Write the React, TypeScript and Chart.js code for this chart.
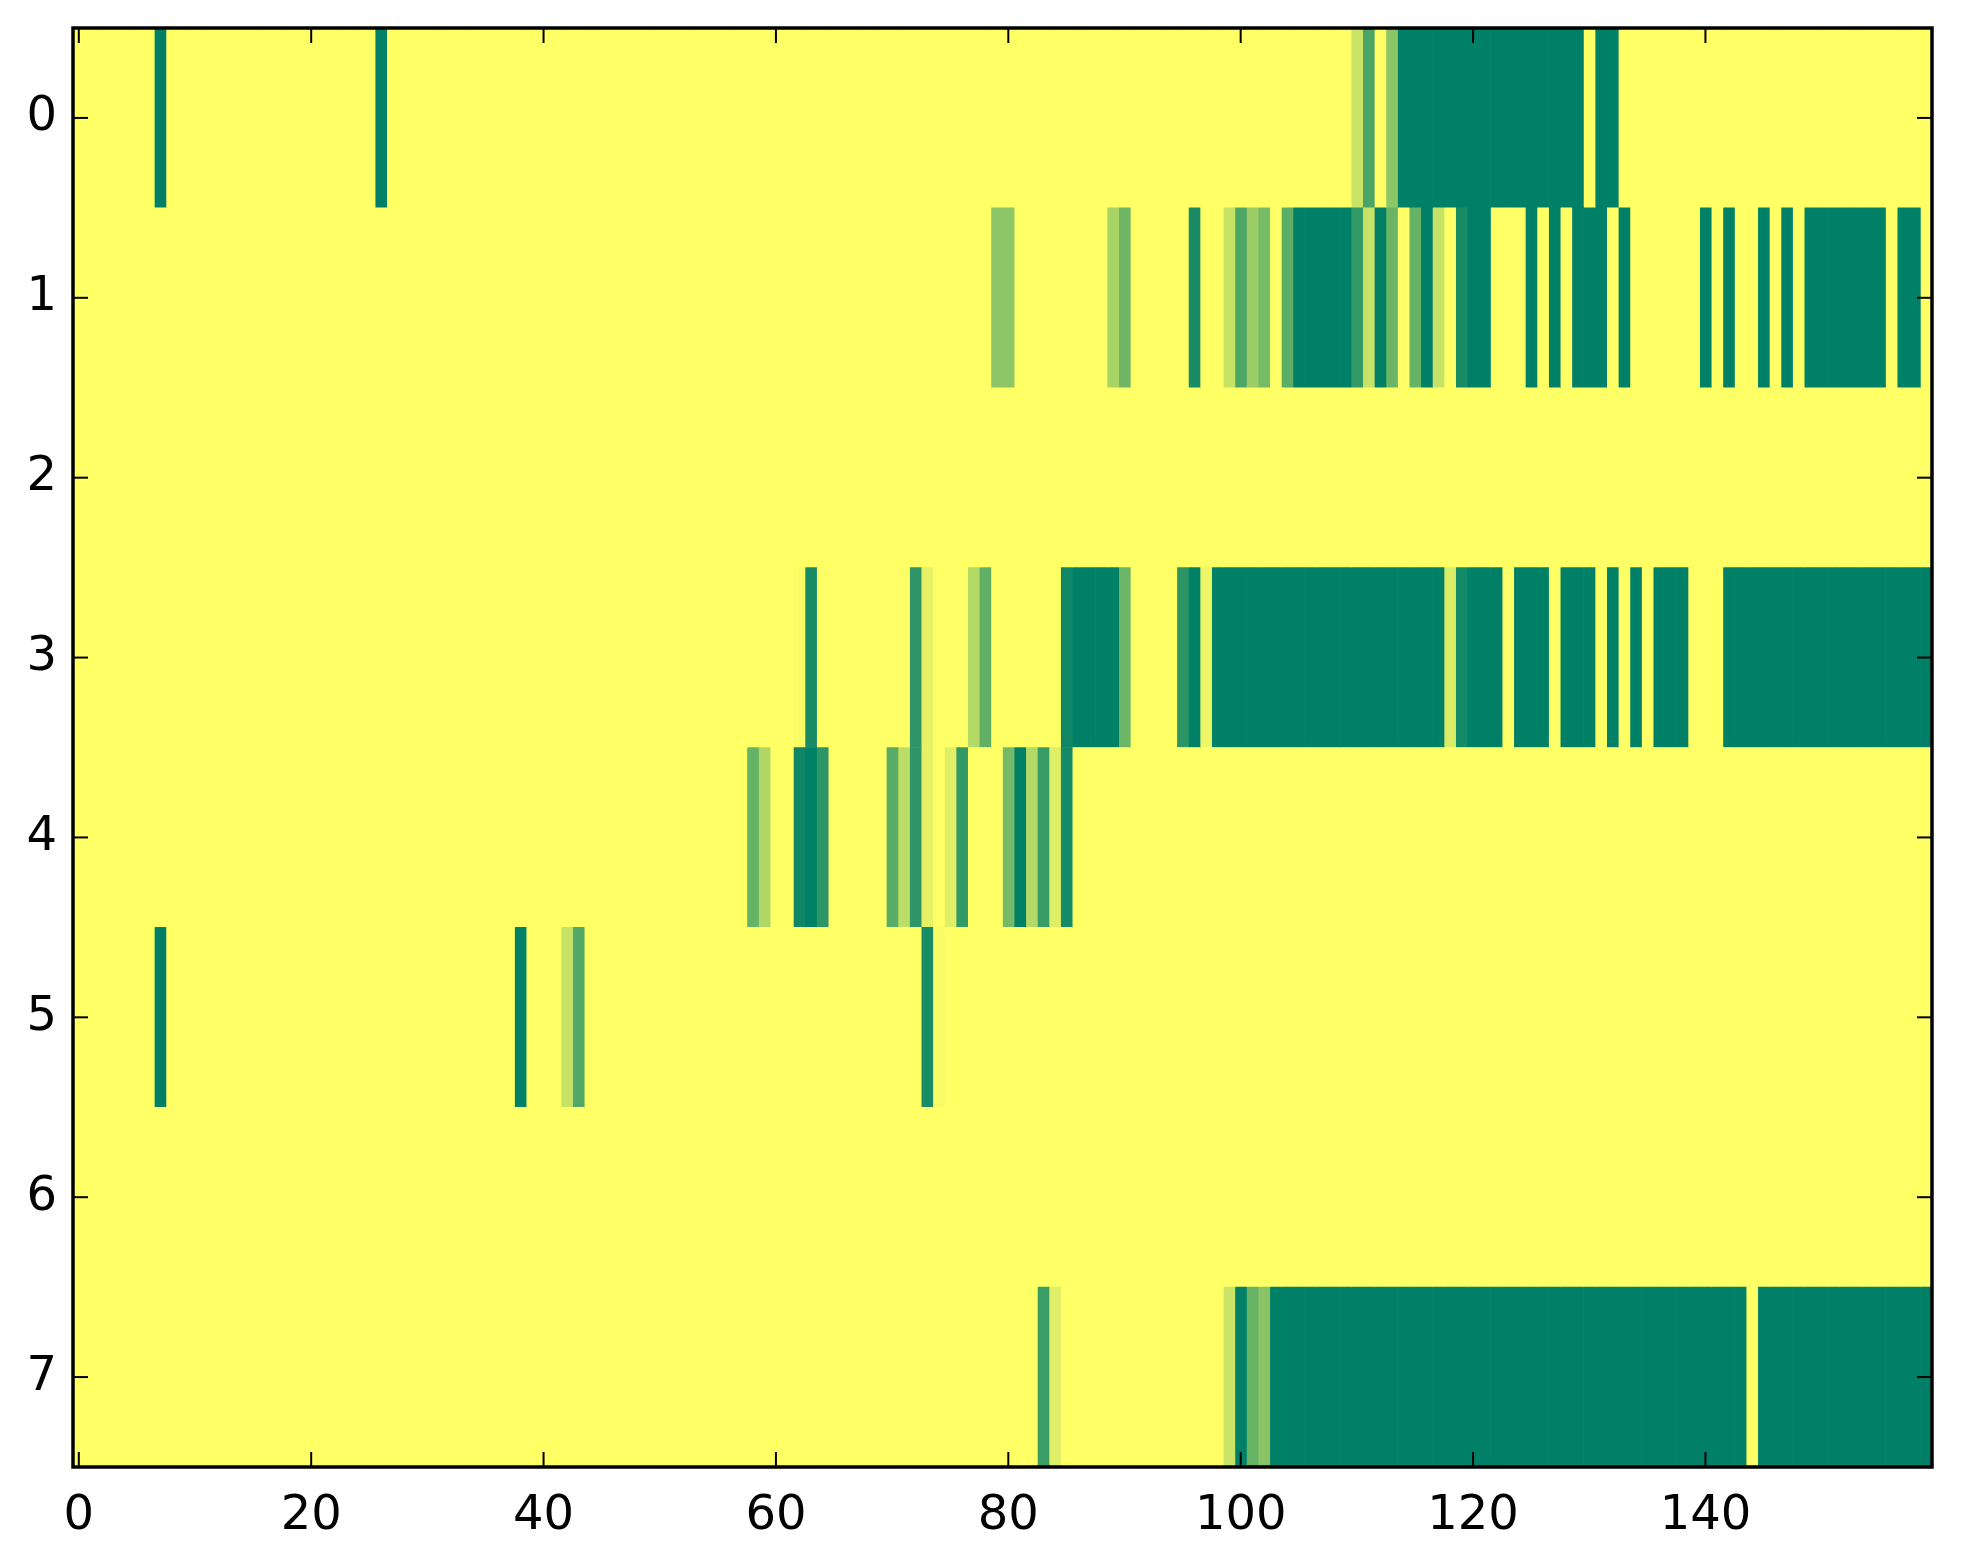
import React, { useEffect, useRef } from 'react';
import { Chart, registerables } from 'chart.js';

Chart.register(...registerables);

const rowLabels = ['0', '1', '2', '3', '4', '5', '6', '7'];
const xTickValues = [0, 20, 40, 60, 80, 100, 120, 140];

const row0 = [
  0, 0, 0, 0, 0, 0, 0, 1, 0, 0,
  0, 0, 0, 0, 0, 0, 0, 0, 0, 0,
  0, 0, 0, 0, 0, 0, 1, 0, 0, 0,
  0, 0, 0, 0, 0, 0, 0, 0, 0, 0,
  0, 0, 0, 0, 0, 0, 0, 0, 0, 0,
  0, 0, 0, 0, 0, 0, 0, 0, 0, 0,
  0, 0, 0, 0, 0, 0, 0, 0, 0, 0,
  0, 0, 0, 0, 0, 0, 0, 0, 0, 0,
  0, 0, 0, 0, 0, 0, 0, 0, 0, 0,
  0, 0, 0, 0, 0, 0, 0, 0, 0, 0,
  0, 0, 0, 0, 0, 0, 0, 0, 0, 0,
  0.21, 0.71, 0, 0.45, 1, 1, 1, 1, 1, 1,
  1, 1, 1, 1, 1, 1, 1, 1, 1, 1,
  0, 1, 1, 0, 0, 0, 0, 0, 0, 0,
  0, 0, 0, 0, 0, 0, 0, 0, 0, 0,
  0, 0, 0, 0, 0, 0, 0, 0, 0, 0,
];

const row1 = [
  0, 0, 0, 0, 0, 0, 0, 0, 0, 0,
  0, 0, 0, 0, 0, 0, 0, 0, 0, 0,
  0, 0, 0, 0, 0, 0, 0, 0, 0, 0,
  0, 0, 0, 0, 0, 0, 0, 0, 0, 0,
  0, 0, 0, 0, 0, 0, 0, 0, 0, 0,
  0, 0, 0, 0, 0, 0, 0, 0, 0, 0,
  0, 0, 0, 0, 0, 0, 0, 0, 0, 0,
  0, 0, 0, 0, 0, 0, 0, 0, 0, 0.45,
  0.45, 0, 0, 0, 0, 0, 0, 0, 0, 0.34,
  0.57, 0, 0, 0, 0, 0, 0.9, 0, 0, 0.22,
  0.69, 0.39, 0.53, 0, 0.64, 1, 1, 1, 1, 1,
  0.8, 0.22, 1, 0.58, 0, 0.6, 1, 0.22, 0, 0.9,
  1, 1, 0, 0, 0, 1, 0, 1, 0, 1,
  1, 1, 0, 1, 0, 0, 0, 0, 0, 0,
  1, 0, 1, 0, 0, 1, 0, 1, 0, 1,
  1, 1, 1, 1, 1, 1, 0, 1, 1, 0,
];

const row2 = [
  0, 0, 0, 0, 0, 0, 0, 0, 0, 0,
  0, 0, 0, 0, 0, 0, 0, 0, 0, 0,
  0, 0, 0, 0, 0, 0, 0, 0, 0, 0,
  0, 0, 0, 0, 0, 0, 0, 0, 0, 0,
  0, 0, 0, 0, 0, 0, 0, 0, 0, 0,
  0, 0, 0, 0, 0, 0, 0, 0, 0, 0,
  0, 0, 0, 0, 0, 0, 0, 0, 0, 0,
  0, 0, 0, 0, 0, 0, 0, 0, 0, 0,
  0, 0, 0, 0, 0, 0, 0, 0, 0, 0,
  0, 0, 0, 0, 0, 0, 0, 0, 0, 0,
  0, 0, 0, 0, 0, 0, 0, 0, 0, 0,
  0, 0, 0, 0, 0, 0, 0, 0, 0, 0,
  0, 0, 0, 0, 0, 0, 0, 0, 0, 0,
  0, 0, 0, 0, 0, 0, 0, 0, 0, 0,
  0, 0, 0, 0, 0, 0, 0, 0, 0, 0,
  0, 0, 0, 0, 0, 0, 0, 0, 0, 0,
];

const row3 = [
  0, 0, 0, 0, 0, 0, 0, 0, 0, 0,
  0, 0, 0, 0, 0, 0, 0, 0, 0, 0,
  0, 0, 0, 0, 0, 0, 0, 0, 0, 0,
  0, 0, 0, 0, 0, 0, 0, 0, 0, 0,
  0, 0, 0, 0, 0, 0, 0, 0, 0, 0,
  0, 0, 0, 0, 0, 0, 0, 0, 0, 0,
  0, 0, 0.02, 0.9, 0, 0, 0, 0, 0, 0,
  0, 0, 0.82, 0.1, 0, 0, 0, 0.3, 0.62, 0,
  0, 0, 0, 0, 0, 0.94, 1, 1, 1, 1,
  0.58, 0, 0, 0, 0, 0.83, 1, 0.07, 1, 1,
  1, 1, 1, 1, 1, 1, 1, 1, 1, 1,
  1, 1, 1, 1, 1, 1, 1, 1, 0.15, 0.92,
  1, 1, 1, 0, 1, 1, 1, 0, 1, 1,
  1, 0, 1, 0, 1, 0, 1, 1, 1, 0,
  0, 0, 1, 1, 1, 1, 1, 1, 1, 1,
  1, 1, 1, 1, 1, 1, 1, 1, 1, 1,
];

const row4 = [
  0, 0, 0, 0, 0, 0, 0, 0, 0, 0,
  0, 0, 0, 0, 0, 0, 0, 0, 0, 0,
  0, 0, 0, 0, 0, 0, 0, 0, 0, 0,
  0, 0, 0, 0, 0, 0, 0, 0, 0, 0,
  0, 0, 0, 0, 0, 0, 0, 0, 0, 0,
  0, 0, 0, 0, 0, 0, 0, 0, 0.6, 0.31,
  0, 0, 0.94, 1, 0.82, 0, 0, 0, 0, 0,
  0.65, 0.27, 0.82, 0.1, 0, 0.12, 0.8, 0, 0, 0,
  0.55, 1, 0.3, 0.78, 0.13, 0.92, 0, 0, 0, 0,
  0, 0, 0, 0, 0, 0, 0, 0, 0, 0,
  0, 0, 0, 0, 0, 0, 0, 0, 0, 0,
  0, 0, 0, 0, 0, 0, 0, 0, 0, 0,
  0, 0, 0, 0, 0, 0, 0, 0, 0, 0,
  0, 0, 0, 0, 0, 0, 0, 0, 0, 0,
  0, 0, 0, 0, 0, 0, 0, 0, 0, 0,
  0, 0, 0, 0, 0, 0, 0, 0, 0, 0,
];

const row5 = [
  0, 0, 0, 0, 0, 0, 0, 1, 0, 0,
  0, 0, 0, 0, 0, 0, 0, 0, 0, 0,
  0, 0, 0, 0, 0, 0, 0, 0, 0, 0,
  0, 0, 0, 0, 0, 0, 0, 0, 1, 0,
  0, 0, 0.22, 0.68, 0, 0, 0, 0, 0, 0,
  0, 0, 0, 0, 0, 0, 0, 0, 0, 0,
  0, 0, 0, 0, 0, 0, 0, 0, 0, 0,
  0, 0, 0, 0.9, 0.03, 0, 0, 0, 0, 0,
  0, 0, 0, 0, 0, 0, 0, 0, 0, 0,
  0, 0, 0, 0, 0, 0, 0, 0, 0, 0,
  0, 0, 0, 0, 0, 0, 0, 0, 0, 0,
  0, 0, 0, 0, 0, 0, 0, 0, 0, 0,
  0, 0, 0, 0, 0, 0, 0, 0, 0, 0,
  0, 0, 0, 0, 0, 0, 0, 0, 0, 0,
  0, 0, 0, 0, 0, 0, 0, 0, 0, 0,
  0, 0, 0, 0, 0, 0, 0, 0, 0, 0,
];

const row6 = [
  0, 0, 0, 0, 0, 0, 0, 0, 0, 0,
  0, 0, 0, 0, 0, 0, 0, 0, 0, 0,
  0, 0, 0, 0, 0, 0, 0, 0, 0, 0,
  0, 0, 0, 0, 0, 0, 0, 0, 0, 0,
  0, 0, 0, 0, 0, 0, 0, 0, 0, 0,
  0, 0, 0, 0, 0, 0, 0, 0, 0, 0,
  0, 0, 0, 0, 0, 0, 0, 0, 0, 0,
  0, 0, 0, 0, 0, 0, 0, 0, 0, 0,
  0, 0, 0, 0, 0, 0, 0, 0, 0, 0,
  0, 0, 0, 0, 0, 0, 0, 0, 0, 0,
  0, 0, 0, 0, 0, 0, 0, 0, 0, 0,
  0, 0, 0, 0, 0, 0, 0, 0, 0, 0,
  0, 0, 0, 0, 0, 0, 0, 0, 0, 0,
  0, 0, 0, 0, 0, 0, 0, 0, 0, 0,
  0, 0, 0, 0, 0, 0, 0, 0, 0, 0,
  0, 0, 0, 0, 0, 0, 0, 0, 0, 0,
];

const row7 = [
  0, 0, 0, 0, 0, 0, 0, 0, 0, 0,
  0, 0, 0, 0, 0, 0, 0, 0, 0, 0,
  0, 0, 0, 0, 0, 0, 0, 0, 0, 0,
  0, 0, 0, 0, 0, 0, 0, 0, 0, 0,
  0, 0, 0, 0, 0, 0, 0, 0, 0, 0,
  0, 0, 0, 0, 0, 0, 0, 0, 0, 0,
  0, 0, 0, 0, 0, 0, 0, 0, 0, 0,
  0, 0, 0, 0, 0, 0, 0, 0, 0, 0,
  0, 0, 0, 0.77, 0.13, 0, 0, 0, 0, 0,
  0, 0, 0, 0, 0, 0, 0, 0, 0, 0.21,
  1, 0.6, 0.46, 1, 1, 1, 1, 1, 1, 1,
  1, 1, 1, 1, 1, 1, 1, 1, 1, 1,
  1, 1, 1, 1, 1, 1, 1, 1, 1, 1,
  1, 1, 1, 1, 1, 1, 1, 1, 1, 1,
  1, 1, 1, 1, 0, 1, 1, 1, 1, 1,
  1, 1, 1, 1, 1, 1, 1, 1, 1, 1,
];

const rows = [row0, row1, row2, row3, row4, row5, row6, row7];

// matplotlib "summer_r" colormap
function cellColor(v: number): string {
  const r = Math.round(255 * (1 - v));
  const g = Math.round(255 * (1 - v / 2));
  return `rgb(${r},${g},102)`;
}

const FONT = { family: "'DejaVu Sans', 'Liberation Sans', sans-serif", size: 48 };

const frameTicks = {
  id: 'frameTicks',
  afterDraw(chart: any) {
    const { ctx, chartArea } = chart;
    const { left, right, top, bottom } = chartArea;
    const x = chart.scales.x;
    const y = chart.scales.y;
    const line = (x1: number, y1: number, x2: number, y2: number) => {
      ctx.beginPath();
      ctx.moveTo(x1, y1);
      ctx.lineTo(x2, y2);
      ctx.stroke();
    };
    ctx.save();
    ctx.strokeStyle = '#000';
    ctx.lineWidth = 2;
    const tl = 15;
    for (const v of xTickValues) {
      const px = x.getPixelForValue(v);
      line(px, bottom, px, bottom - tl);
      line(px, top, px, top + tl);
    }
    for (let i = 0; i < rowLabels.length; i++) {
      const py = y.getPixelForValue(i);
      line(left, py, left + tl, py);
      line(right, py, right - tl, py);
    }
    ctx.lineWidth = 3.5;
    ctx.strokeRect(left, top, right - left, bottom - top);
    ctx.restore();
  },
};

export default function App() {
  const ref = useRef<HTMLCanvasElement | null>(null);

  useEffect(() => {
    const canvas = ref.current;
    if (!canvas) return;
    const nCols = row0.length;
    const datasets = [] as any[];
    for (let c = 0; c < nCols; c++) {
      datasets.push({
        label: 'col ' + c,
        data: rows.map(() => [c - 0.5, c + 0.5]),
        backgroundColor: rows.map((r) => cellColor(r[c])),
        borderWidth: 0,
        grouped: false,
        barPercentage: 1,
        categoryPercentage: 1,
      });
    }
    const chart = new Chart(canvas, {
      type: 'bar',
      data: { labels: rowLabels, datasets },
      plugins: [frameTicks],
      options: {
        animation: false,
        responsive: false,
        devicePixelRatio: 1,
        indexAxis: 'y',
        layout: { padding: { left: 0, top: 28, right: 31, bottom: 0 } },
        plugins: {
          legend: { display: false },
          tooltip: { enabled: false },
        },
        scales: {
          x: {
            type: 'linear',
            min: -0.5,
            max: nCols - 0.5,
            afterBuildTicks: (scale: any) => {
              scale.ticks = xTickValues.map((v) => ({ value: v }));
            },
            afterFit: (scale: any) => {
              scale.height = 97;
              scale.paddingLeft = 0;
              scale.paddingRight = 0;
              scale.paddingTop = 0;
              scale.paddingBottom = 0;
            },
            grid: { display: false, drawTicks: false },
            border: { display: false },
            ticks: {
              autoSkip: false,
              maxRotation: 0,
              padding: 21,
              color: '#000',
              font: FONT,
              callback: (v: any) => String(v),
            },
          },
          y: {
            type: 'category',
            offset: true,
            afterFit: (scale: any) => {
              scale.width = 73;
              scale.paddingLeft = 0;
              scale.paddingRight = 0;
              scale.paddingTop = 0;
              scale.paddingBottom = 0;
            },
            grid: { display: false, drawTicks: false },
            border: { display: false },
            ticks: {
              padding: 16,
              color: '#000',
              font: FONT,
            },
          },
        },
      } as any,
    });
    return () => chart.destroy();
  }, []);

  return (
    <div style={{ position: 'fixed', left: 0, top: 0, width: 1963, height: 1564, background: '#fff' }}>
      <canvas ref={ref} width={1963} height={1564} style={{ width: 1963, height: 1564, display: 'block' }} />
    </div>
  );
}
